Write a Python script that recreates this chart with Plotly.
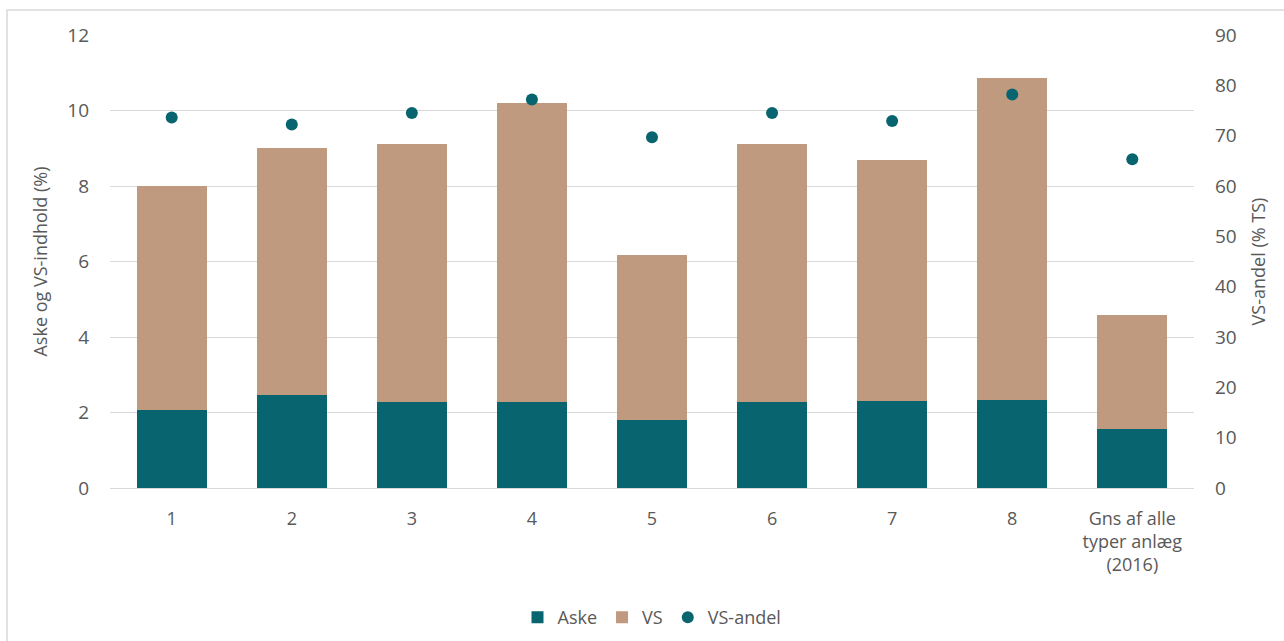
import plotly.graph_objects as go

# Plant categories
categories = ["1", "2", "3", "4", "5", "6", "7", "8", "Gns af alle<br>typer anlæg<br>(2016)"]

# Ash content (%), VS content (%) and VS share of total solids (% TS)
aske = [2.06, 2.47, 2.28, 2.28, 1.81, 2.28, 2.30, 2.32, 1.55]
vs = [5.95, 6.54, 6.84, 7.92, 4.35, 6.83, 6.38, 8.55, 3.04]
vs_andel = [73.6, 72.2, 74.5, 77.2, 69.7, 74.5, 72.9, 78.2, 65.3]

left_ticks = [0, 2, 4, 6, 8, 10, 12]
right_ticks = [0, 10, 20, 30, 40, 50, 60, 70, 80, 90]

TEAL = "#08646f"
TAN = "#bf9a7f"
GREY_TEXT = "#595959"
GRID = "#d9d9d9"
FONT = "Open Sans"

fig = go.Figure()
fig.add_trace(go.Bar(x=categories, y=aske, name="Aske", marker_color=TEAL,
                     marker_line_width=0))
fig.add_trace(go.Bar(x=categories, y=vs, name="VS", marker_color=TAN,
                     marker_line_width=0))
fig.add_trace(go.Scatter(x=categories, y=vs_andel, name="VS-andel", mode="markers",
                         yaxis="y2", marker=dict(color=TEAL, size=12)))

fig.update_layout(
    width=1284, height=641,
    margin=dict(l=110, r=90, t=35, b=153, autoexpand=False),
    paper_bgcolor="white", plot_bgcolor="white",
    barmode="stack", bargap=0.42,
    font=dict(family=FONT, size=18, color=GREY_TEXT),
    showlegend=True,
    legend=dict(orientation="h", x=0.5, xanchor="center", y=-0.245, yanchor="top",
                font=dict(size=18, color=GREY_TEXT), itemwidth=30,
                traceorder="normal"),
    xaxis=dict(showgrid=False, showline=True, linecolor=GRID, linewidth=1,
               ticks="", automargin=False, ticklabelstandoff=14,
               tickfont=dict(size=18, color=GREY_TEXT)),
    yaxis=dict(range=[0, 12], tickvals=left_ticks, showgrid=True,
               gridcolor=GRID, gridwidth=1, zeroline=False, showline=False,
               ticks="", ticklabelstandoff=20, automargin=False,
               tickfont=dict(size=19, color=GREY_TEXT),
               title=dict(text="Aske og VS-indhold (%)",
                          font=dict(size=18, color=GREY_TEXT), standoff=14)),
    yaxis2=dict(range=[0, 90], tickvals=right_ticks, overlaying="y", side="right",
                showgrid=False, zeroline=False, showline=False, ticks="",
                ticklabelstandoff=20, automargin=False,
                tickfont=dict(size=19, color=GREY_TEXT),
                title=dict(text="VS-andel (% TS)",
                           font=dict(size=18, color=GREY_TEXT), standoff=16)),
)

# Chart frame
fig.add_shape(type="rect", xref="paper", yref="paper",
              x0=-0.095, x1=1.0886, y0=-0.3576, y1=1.0552,
              line=dict(color=GRID, width=1.5), fillcolor="rgba(0,0,0,0)",
              layer="below")

fig.write_html("out.html")
